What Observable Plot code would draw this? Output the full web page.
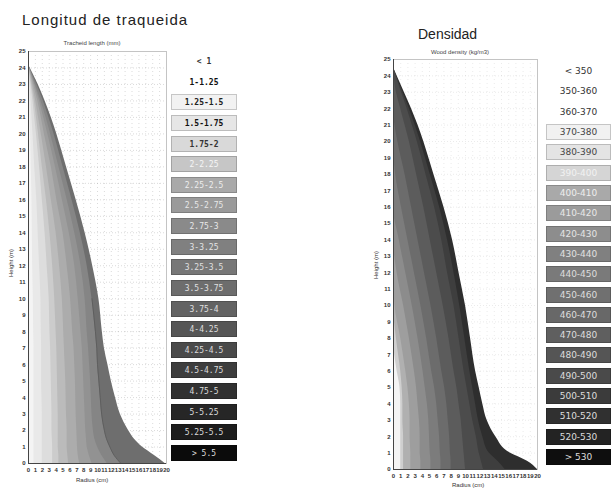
<!DOCTYPE html>
<html><head><meta charset="utf-8">
<script src="https://cdn.jsdelivr.net/npm/d3@7"></script>
<script src="https://cdn.jsdelivr.net/npm/@observablehq/plot@0.6"></script>
<style>
body{margin:0;background:#fff;width:613px;height:489px;position:relative;overflow:hidden;font-family:"Liberation Sans",Arial,sans-serif}
.abs{position:absolute;white-space:nowrap}
.title{font-size:14px;color:#222}
.sub{font-size:6px;color:#444;transform:translateX(-50%)}
.axl{font-size:6px;color:#333}
.leg{position:absolute;box-sizing:border-box;text-align:center;height:16px;line-height:15px}
svg{overflow:visible}
</style></head><body>
<script>
// ---------- legend classes ----------
const lenClasses = ["< 1","1-1.25","1.25-1.5","1.5-1.75","1.75-2","2-2.25","2.25-2.5","2.5-2.75","2.75-3","3-3.25","3.25-3.5","3.5-3.75","3.75-4","4-4.25","4.25-4.5","4.5-4.75","4.75-5","5-5.25","5.25-5.5","> 5.5"];
const lenFills = ["#ffffff","#ffffff","#f2f2f2","#e6e6e6","#d9d9d9","#c6c6c6","#a9a9a9","#9a9a9a","#8a8a8a","#808080","#777777","#6d6d6d","#636363","#565656","#4a4a4a","#3d3d3d","#313131","#262626","#1c1c1c","#0b0b0b"];
const lenTextColors = ["#333","#111","#222","#111","#333","#f6f6f6","#eeeeee","#e8e8e8","#e8e8e8","#e4e4e4","#e0e0e0","#e0e0e0","#e0e0e0","#dddddd","#dddddd","#dddddd","#dddddd","#dddddd","#dddddd","#dddddd"];
const denClasses = ["< 350","350-360","360-370","370-380","380-390","390-400","400-410","410-420","420-430","430-440","440-450","450-460","460-470","470-480","480-490","490-500","500-510","510-520","520-530","> 530"];
const denFills = ["#ffffff","#ffffff","#ffffff","#f1f1f1","#e4e4e4","#d5d5d5","#a9a9a9","#9b9b9b","#8d8d8d","#808080","#7a7a7a","#707070","#686868","#5f5f5f","#555555","#4a4a4a","#3b3b3b","#303030","#232323","#0e0e0e"];
const denTextColors = ["#333","#333","#333","#444","#444","#f2f2f2","#eeeeee","#e8e8e8","#e4e4e4","#e0e0e0","#dddddd","#dddddd","#dddddd","#dddddd","#dddddd","#dddddd","#dddddd","#dddddd","#dddddd","#dddddd"];

// ---------- tracheid length stem profile (radius, cm, of each class boundary at each height, m) ----------
const lenHeights = [0,0.5,1,1.5,2,3,4,5,6,7,8,10,12,14,16,18,20,21,22,23,24.2];
const lenOuter   = [19.8,18.2,16.5,15.3,14.5,13.3,12.6,12.0,11.5,11.0,10.7,10.2,9.3,8.2,6.9,5.5,4.1,3.3,2.4,1.4,0];
const lenB0 = [0.8,0.8,0.8,0.8,0.8,0.8,0.8,0.8,0.8,0.8,0.75,0.7,0.6,0.55,0.5,0.4,0.3,0.23,0.17,0.1,0];
const lenB1 = [2.0,2.0,2.0,2.0,2.0,2.0,1.95,1.9,1.9,1.9,1.85,1.8,1.6,1.4,1.2,0.9,0.65,0.5,0.38,0.2,0];
const lenB2 = [3.5,3.5,3.5,3.45,3.4,3.4,3.35,3.3,3.25,3.2,3.1,3.0,2.7,2.4,2.0,1.6,1.15,0.9,0.65,0.35,0];
const lenB3 = [4.4,4.4,4.3,4.3,4.3,4.3,4.25,4.2,4.15,4.1,4.0,3.8,3.5,3.1,2.6,2.0,1.45,1.15,0.85,0.45,0];
const lenB4 = [5.8,5.7,5.6,5.6,5.6,5.5,5.45,5.4,5.3,5.2,5.1,4.9,4.5,4.0,3.3,2.6,1.85,1.45,1.05,0.6,0];
const lenB5 = [7.4,7.2,7.1,7.05,7.0,6.9,6.85,6.8,6.7,6.6,6.4,6.1,5.6,5.0,4.1,3.3,2.3,1.85,1.35,0.75,0];
const lenB6 = [9.2,8.8,8.5,8.4,8.3,8.2,8.1,8.0,7.9,7.8,7.6,7.2,6.7,5.9,4.9,3.9,2.8,2.2,1.6,0.9,0];
const lenB7 = [11.4,10.6,10.0,9.6,9.4,9.2,9.1,9.0,8.85,8.7,8.5,8.2,7.6,6.7,5.6,4.4,3.2,2.55,1.8,1.0,0];
const lenB8 = [13.4,12.4,11.8,11.3,11.0,10.6,10.4,10.2,10.0,9.9,9.7,9.2,8.5,7.5,6.3,5.0,3.7,2.95,2.15,1.2,0];
const lenBandColors = ["#f4f4f4","#e9e9e9","#dddddd","#cccccc","#bbbbbb","#acacac","#9e9e9e","#929292","#858585","#6e6e6e"];

// ---------- wood density stem profile ----------
const denHeights = [0,0.5,1,2,3,4,5,6,8,10,12,14,16,18,20,21,22,23,24.5];
const denOuter   = [20,18.6,16.2,14.2,13.0,12.4,11.9,11.4,10.7,10.0,9.1,8.2,7.0,5.6,4.2,3.4,2.5,1.5,0];
const denB0 = [1.0,1.0,1.0,1.0,1.0,1.0,0.9,0.5,0,0,0,0,0,0,0,0,0,0,0];
const denB1 = [1.4,1.4,1.4,1.4,1.3,1.3,1.2,1.0,0.4,0,0,0,0,0,0,0,0,0,0];
const denB2 = [2.4,2.4,2.4,2.3,2.3,2.2,2.0,1.7,1.0,0.2,0,0,0,0,0,0,0,0,0];
const denB3 = [3.8,3.8,3.7,3.7,3.6,3.4,3.2,2.9,2.2,1.4,0.5,0,0,0,0,0,0,0,0];
const denB4 = [5.2,5.2,5.1,5.0,4.9,4.7,4.4,4.1,3.4,2.6,1.7,0.8,0,0,0,0,0,0,0];
const denB5 = [6.6,6.6,6.5,6.4,6.2,6.0,5.7,5.3,4.6,3.8,2.9,2.0,1.1,0.3,0,0,0,0,0];
const denB6 = [8.0,8.0,7.9,7.8,7.6,7.4,7.1,6.7,6.0,5.2,4.3,3.4,2.5,1.6,0.6,0.2,0,0,0];
const denB7 = [10.0,9.9,9.8,9.6,9.4,9.1,8.8,8.4,7.7,6.9,6.0,5.1,4.2,3.2,2.2,1.6,1.0,0.4,0];
const denB8 = [12.5,12.2,11.9,11.5,11.0,10.6,10.2,9.8,9.1,8.4,7.5,6.7,5.7,4.5,3.3,2.6,1.9,1.1,0];
const denB9 = [15.5,14.5,13.3,12.4,11.8,11.4,11.0,10.6,9.9,9.2,8.4,7.5,6.4,5.1,3.75,3.0,2.2,1.3,0];
const denBandColors = ["#f4f4f4","#cfcfcf","#b0b0b0","#9e9e9e","#8c8c8c","#7c7c7c","#6c6c6c","#5c5c5c","#4c4c4c","#3e3e3e","#2e2e2e"];

const xTicks = d3.range(0, 21);
const yTicks = d3.range(0, 26);

function addDiv(cls, text, style) {
  const d = document.createElement("div");
  d.className = cls;
  d.textContent = text;
  Object.assign(d.style, style);
  document.body.appendChild(d);
  return d;
}

function stemPlot({heights, bounds, outer, colors, contour, width, height, ml, mr, mt, mb, gridOpacity}) {
  const radii = [...bounds, outer];
  const layers = radii.map((r, k) => ({r, k})).reverse();
  const marks = [
    Plot.gridX(d3.range(1, 20), {stroke: "#999", strokeOpacity: gridOpacity, strokeDasharray: "1,3"}),
    Plot.gridY(d3.range(1, 25), {stroke: "#999", strokeOpacity: gridOpacity, strokeDasharray: "1,2"}),
    Plot.frame({stroke: "#c4c4c4"}),
    ...layers.map(({r, k}) => Plot.areaX(heights.map((h, i) => ({h, r: r[i]})),
      {x1: 0, x2: "r", y: "h", fill: colors[k], curve: "monotone-y"}))
  ];
  if (contour) {
    marks.push(Plot.line(heights.map((h, i) => ({h, r: contour[i]})).filter(d => d.h <= 10),
      {x: "r", y: "h", stroke: "#5a5a5a", strokeWidth: 0.8, curve: "monotone-y"}));
  }
  marks.push(Plot.ruleX([0], {stroke: "#444"}), Plot.ruleY([0], {stroke: "#444"}));
  return Plot.plot({
    width, height, marginLeft: ml, marginRight: mr, marginTop: mt, marginBottom: mb,
    x: {domain: [0, 20], ticks: xTicks, tickSize: 0, tickPadding: 4, label: null},
    y: {domain: [0, 25], ticks: yTicks, tickSize: 0, tickPadding: 3, label: null},
    style: {fontSize: "6px", fontFamily: "Liberation Sans, Arial, sans-serif", color: "#333", background: "transparent", fontWeight: "bold"},
    marks
  });
}

function place(node, left, top) {
  node.style.position = "absolute";
  node.style.left = left + "px";
  node.style.top = top + "px";
  document.body.appendChild(node);
}

// left panel
place(stemPlot({heights: lenHeights, bounds: [lenB0,lenB1,lenB2,lenB3,lenB4,lenB5,lenB6,lenB7,lenB8], outer: lenOuter,
  colors: lenBandColors, contour: lenB8, width: 175, height: 451, ml: 28, mr: 9, mt: 15, mb: 24, gridOpacity: 0.35}), 0, 36);
// right panel
place(stemPlot({heights: denHeights, bounds: [denB0,denB1,denB2,denB3,denB4,denB5,denB6,denB7,denB8,denB9], outer: denOuter,
  colors: denBandColors, contour: null, width: 185, height: 449, ml: 33, mr: 8, mt: 15, mb: 24, gridOpacity: 0.2}), 360, 44);

// titles & labels
addDiv("abs title", "Longitud de traqueida", {left: "22px", top: "11px", fontSize: "15px", letterSpacing: "1px"});
addDiv("abs title", "Densidad", {left: "418px", top: "26px"});
addDiv("abs sub", "Tracheid length (mm)", {left: "92px", top: "40px"});
addDiv("abs sub", "Wood density (kg/m3)", {left: "460px", top: "49px"});
addDiv("abs axl", "Radius (cm)", {left: "76px", top: "477px"});
addDiv("abs axl", "Radius (cm)", {left: "452px", top: "482px"});
addDiv("abs axl", "Height (m)", {left: "-3px", top: "260px", transform: "rotate(-90deg)"});
addDiv("abs axl", "Height (m)", {left: "362px", top: "262px", transform: "rotate(-90deg)"});

// legends
function legend(classes, fills, texts, left, top0, pitch, width, font, fsize, noBox, boldCount) {
  classes.forEach((c, i) => {
    const d = document.createElement("div");
    d.className = "leg";
    d.textContent = c;
    const boxed = i >= noBox;
    Object.assign(d.style, {
      left: left + "px", top: (top0 + i * pitch - 8) + "px", width: width + "px",
      background: boxed ? fills[i] : "transparent",
      border: boxed ? "1px solid rgba(0,0,0,0.18)" : "1px solid transparent",
      color: texts[i], fontFamily: font, fontSize: fsize + "px",
      fontWeight: i < boldCount ? "bold" : "normal"
    });
    document.body.appendChild(d);
  });
}
legend(lenClasses, lenFills, lenTextColors, 171, 61, 20.63, 66, "DejaVu Sans Mono, monospace", 8, 2, 5);
legend(denClasses, denFills, denTextColors, 546, 71, 20.32, 65, "DejaVu Sans, sans-serif", 9, 3, 0);
</script>
</body></html>
